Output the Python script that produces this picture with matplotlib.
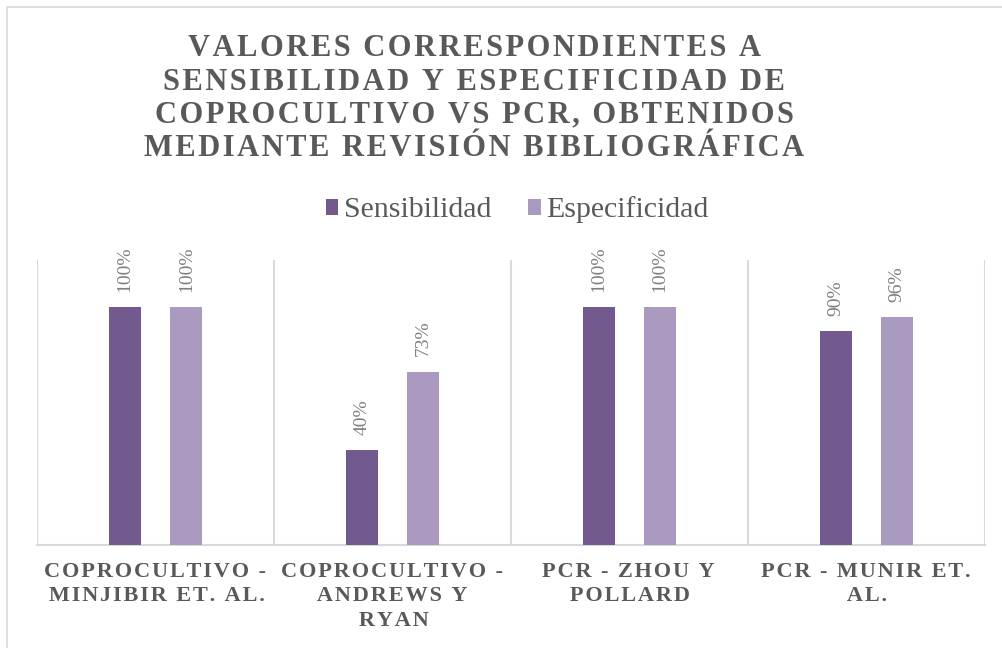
import matplotlib
matplotlib.use("Agg")
import matplotlib.pyplot as plt
import numpy as np
from matplotlib.patches import Rectangle

categories = ["COPROCULTIVO -\nMINJIBIR ET. AL.", "COPROCULTIVO -\nANDREWS Y\nRYAN",
              "PCR - ZHOU Y\nPOLLARD", "PCR - MUNIR ET.\nAL."]
sensibilidad = [1.00, 0.40, 1.00, 0.90]
especificidad = [1.00, 0.73, 1.00, 0.96]
series_names = ["Sensibilidad", "Especificidad"]
title_lines = ["VALORES CORRESPONDIENTES A", "SENSIBILIDAD Y ESPECIFICIDAD DE",
               "COPROCULTIVO VS PCR, OBTENIDOS", "MEDIANTE REVISIÓN BIBLIOGRÁFICA"]

c_sens = "#725A8E"
c_esp = "#AA9ABF"
grid_c = "#D9D9D9"
txt_c = "#595959"
serif = ["Liberation Serif", "DejaVu Serif"]

def spaced(s, sep="\u200a"):
    return sep.join(s)

fig = plt.figure(figsize=(10.03, 6.48), dpi=100)
fig.patches.append(Rectangle((0.007, -0.1), 1.2, 1.089, transform=fig.transFigure,
                             fill=False, edgecolor=grid_c, linewidth=1.2))

ax = fig.add_axes([0.0369, 0.159, 0.945, 0.44])
x = np.arange(len(categories))
w = 0.135
off = 0.13
b1 = ax.bar(x - off, sensibilidad, w, color=c_sens, label=series_names[0], zorder=3)
b2 = ax.bar(x + off, especificidad, w, color=c_esp, label=series_names[1], zorder=3)

for bars, vals in ((b1, sensibilidad), (b2, especificidad)):
    for r, v in zip(bars, vals):
        ax.annotate(f"{v*100:.0f}%", (r.get_x() + r.get_width() / 2, r.get_height()),
                    xytext=(0, 11), textcoords="offset points", rotation=90,
                    ha="center", va="bottom", fontsize=14, color="#7F7F7F",
                    family=serif, annotation_clip=False)

ax.set_xlim(-0.5, len(categories) - 0.5)
ax.set_ylim(0, 1.2)
ax.set_yticks([])
ax.set_xticks(x)
ax.set_xticklabels([spaced(c) for c in categories], fontsize=16, fontweight="bold",
                   color=txt_c, family=serif, linespacing=1.32)
ax.tick_params(axis="x", length=0, pad=12)
ax.set_xticks(np.arange(-0.5, len(categories), 1.0), minor=True)
ax.tick_params(axis="x", which="minor", length=0)
ax.grid(axis="x", which="minor", color=grid_c, linewidth=1.5, zorder=0)
for s in ("top", "left", "right"):
    ax.spines[s].set_visible(False)
ax.spines["bottom"].set_color(grid_c)
ax.spines["bottom"].set_linewidth(1.5)

ys = [0.925, 0.873, 0.823, 0.771]
for yy, line in zip(ys, title_lines):
    fig.text(0.473, yy, spaced(line), ha="center", va="center", fontsize=22,
             fontweight="bold", color=txt_c, family=serif)

leg = fig.legend(handles=[b1, b2], labels=series_names, loc="center",
                 bbox_to_anchor=(0.5155, 0.676), ncol=2, frameon=False,
                 prop={"family": serif, "size": 21.5}, handlelength=0.42,
                 handleheight=0.42, handletextpad=0.18, columnspacing=1.25)
for t in leg.get_texts():
    t.set_color(txt_c)

fig.savefig("out.png", dpi=100)
